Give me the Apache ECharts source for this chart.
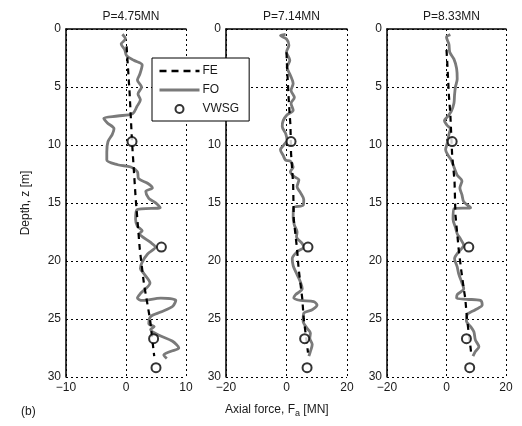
<!DOCTYPE html>
<html>
<head>
<meta charset="utf-8">
<script src="https://cdn.jsdelivr.net/npm/echarts@6/dist/echarts.min.js"></script>
<style>
  html, body { margin: 0; padding: 0; background: #fff; }
  #chart { width: 522px; height: 426px; }
</style>
</head>
<body>
<div id="chart"></div>
<script>
// panel titles (load P)
const panelTitles = ["P=4.75MN", "P=7.14MN", "P=8.33MN"];
const xRanges = [[-10, 10, 10], [-20, 20, 20], [-20, 20, 20]];
const depthTicks = [0, 30, 5];

// VWSG gauge depths (m)
const vwsgDepth = [9.7, 18.8, 26.7, 29.2];

// [axial force MN, depth m]
const fo475 = [
  [-0.6, 0.45], [-0.1, 0.85], [-0.8, 1.3], [-0.2, 1.8], [0.1, 2.3], [1.3, 2.7], [2.7, 3.1],
  [2.3, 3.9], [1.9, 4.4], [2.6, 5.0], [2.0, 5.6], [2.4, 6.1], [1.8, 6.7], [1.1, 7.3],
  [-1.4, 7.5], [-3.7, 7.7], [-3.1, 8.1], [-2.0, 8.6], [-2.3, 9.1], [-3.0, 9.7], [-3.2, 10.6],
  [-3.2, 11.3], [-1.4, 11.7], [0.8, 11.9], [1.9, 12.3], [2.1, 12.9], [3.6, 13.3], [4.4, 13.7],
  [3.3, 14.0], [3.8, 14.6], [4.7, 14.9], [5.2, 15.1], [5.7, 15.4], [1.8, 15.6], [1.6, 16.4],
  [1.9, 17.0], [2.7, 17.4], [2.2, 17.65], [2.7, 17.9], [4.1, 18.4], [4.9, 18.8], [3.6, 19.4],
  [2.7, 20.1], [2.4, 20.65], [3.0, 21.1], [4.0, 21.9], [2.4, 22.8], [1.9, 23.2], [2.7, 23.4],
  [5.8, 23.2], [8.3, 23.4], [7.8, 23.9], [5.8, 24.4], [4.1, 24.8], [3.8, 25.4], [4.7, 25.65],
  [4.1, 25.9], [5.5, 26.4], [7.7, 26.9], [8.8, 27.5], [7.4, 27.8], [6.3, 28.1], [6.8, 28.4]
];
const fe475 = [
  [0.1, 1.5], [0.6, 5.5], [1.0, 9.7], [1.6, 14.5], [2.3, 19.0], [3.0, 22.0],
  [3.5, 23.5], [4.0, 25.0], [4.7, 28.2]
];
const vwsg475 = [1.0, 5.9, 4.6, 5.0];

const fo714 = [
  [-0.3, 0.46], [-2.0, 0.57], [0.0, 0.86], [0.8, 1.4], [0.0, 2.0], [1.1, 2.7], [0.2, 3.3],
  [1.3, 4.0], [2.2, 4.7], [1.5, 5.3], [2.6, 5.9], [1.5, 6.4], [2.2, 7.0], [0.2, 7.4],
  [-1.1, 7.9], [-1.4, 8.4], [-0.3, 9.0], [0.2, 9.6], [-0.9, 10.0], [-2.0, 10.4], [-1.1, 10.9],
  [-0.3, 11.3], [1.3, 11.4], [2.2, 11.9], [1.3, 12.3], [2.4, 12.7], [4.1, 13.0], [3.5, 13.6],
  [4.6, 14.1], [5.7, 14.7], [5.5, 15.2], [2.4, 15.4], [2.2, 16.2], [2.6, 16.9], [3.5, 17.5],
  [3.3, 17.9], [5.2, 18.5], [5.7, 18.8], [3.5, 19.2], [1.9, 19.8], [2.2, 20.4], [3.0, 20.9],
  [4.6, 21.8], [5.2, 22.4], [3.0, 22.9], [2.4, 23.2], [4.6, 23.4], [9.0, 23.5], [10.1, 23.8],
  [8.5, 24.2], [5.7, 24.5], [5.5, 25.2], [6.8, 25.8], [7.9, 26.2], [7.7, 26.65], [8.5, 27.2],
  [7.9, 27.8], [7.4, 28.2]
];
const fe714 = [
  [0.0, 2.0], [0.2, 3.4], [0.8, 6.4], [1.3, 8.3], [1.5, 10.7], [2.2, 13.4], [2.4, 16.4],
  [3.5, 19.0], [4.0, 20.65], [5.2, 23.2], [5.7, 25.0], [6.8, 27.2], [7.1, 27.9]
];
const vwsg714 = [1.5, 7.1, 6.0, 6.8];

const fo833 = [
  [1.3, 0.49], [0.0, 0.71], [0.8, 1.3], [1.1, 2.0], [2.5, 2.6], [3.4, 3.4], [3.6, 4.3],
  [3.0, 5.0], [2.7, 5.7], [2.5, 6.4], [1.6, 7.1], [0.2, 7.6], [-0.7, 7.9], [0.2, 8.3],
  [1.3, 8.6], [0.8, 9.1], [0.2, 9.9], [-0.3, 10.4], [0.8, 11.0], [1.6, 11.3], [2.5, 11.9],
  [3.6, 12.6], [5.2, 13.1], [4.5, 13.7], [5.2, 14.3], [5.8, 14.9], [8.1, 15.4], [2.5, 15.5],
  [2.2, 16.4], [3.0, 17.1], [3.6, 17.65], [4.7, 18.1], [5.8, 18.65], [4.1, 19.2], [2.7, 19.8],
  [3.6, 20.5], [4.1, 21.1], [5.2, 21.9], [5.8, 22.4], [3.6, 22.9], [3.4, 23.2], [6.9, 23.3],
  [11.4, 23.4], [12.0, 23.8], [9.7, 24.2], [6.9, 24.65], [6.7, 25.2], [8.1, 25.65], [9.2, 26.1],
  [9.7, 26.8], [10.9, 27.4], [9.7, 27.8], [8.9, 28.2]
];
const fe833 = [
  [0.0, 1.8], [0.2, 2.6], [0.8, 5.7], [1.3, 7.4], [1.9, 10.9], [2.7, 13.1], [3.0, 16.0],
  [4.1, 19.0], [4.9, 20.7], [5.8, 22.4], [6.3, 23.2], [6.9, 25.0], [8.1, 27.5], [8.3, 28.0]
];
const vwsg833 = [1.9, 7.5, 6.7, 7.8];

const foData = [fo475, fo714, fo833];
const feData = [fe475, fe714, fe833];
const vwsgData = [vwsg475, vwsg714, vwsg833];

const grids = [
  { left: 66, top: 29, width: 120, height: 348 },
  { left: 226, top: 29, width: 121, height: 348 },
  { left: 387, top: 29, width: 119, height: 348 }
];
const font = "'Liberation Sans', Arial, sans-serif";
const ink = "#1a1a1a";
const foGray = "#7a7a7a";
const fmt = (v) => String(v).replace("-", "\u2212");
const gridLine = { show: true, lineStyle: { color: "#000", type: [2, 3], width: 1 } };

const chart = echarts.init(document.getElementById("chart"), null, { renderer: "canvas" });

const xAxis = xRanges.map((r, i) => ({
  type: "value", gridIndex: i, min: r[0], max: r[1], interval: r[2],
  axisLine: { show: true, lineStyle: { color: "#000", width: 1.5 } },
  axisTick: { show: false },
  axisLabel: { color: ink, fontSize: 12, fontFamily: font, margin: 5, formatter: fmt },
  splitLine: gridLine
}));
const yAxis = grids.map((g, i) => ({
  type: "value", gridIndex: i, inverse: true,
  min: depthTicks[0], max: depthTicks[1], interval: depthTicks[2],
  axisLine: { show: true, onZero: false, lineStyle: { color: "#000", width: 1.5 } },
  axisTick: { show: false },
  axisLabel: { color: ink, fontSize: 12, fontFamily: font, margin: 5 },
  splitLine: gridLine,
  name: i === 0 ? "Depth, z [m]" : "",
  nameLocation: "middle", nameGap: 34, nameRotate: 90,
  nameTextStyle: { color: ink, fontSize: 12, fontFamily: font }
}));

const series = [];
for (let i = 0; i < 3; i++) {
  series.push({
    name: "FE", type: "line", xAxisIndex: i, yAxisIndex: i, data: feData[i],
    symbol: "none", showSymbol: false, z: 3,
    lineStyle: { color: "#000", width: 2.2, type: [6, 5] }, itemStyle: { color: "#000" }
  });
  series.push({
    name: "FO", type: "line", xAxisIndex: i, yAxisIndex: i, data: foData[i],
    symbol: "none", showSymbol: false, smooth: 0.3, z: 2,
    lineStyle: { color: foGray, width: 2.8 }, itemStyle: { color: foGray }
  });
  series.push({
    name: "VWSG", type: "scatter", xAxisIndex: i, yAxisIndex: i,
    data: vwsgData[i].map((v, k) => [v, vwsgDepth[k]]),
    symbol: "emptyCircle", symbolSize: 9, z: 4,
    itemStyle: { color: "#000", borderColor: "#000", borderWidth: 2.5 }
  });
}

chart.setOption({
  animation: false,
  backgroundColor: "#fff",
  textStyle: { fontFamily: font },
  grid: grids,
  xAxis: xAxis,
  yAxis: yAxis,
  title: panelTitles.map((t, i) => ({
    text: t, left: grids[i].left + grids[i].width / 2, top: 6, textAlign: "center",
    textStyle: { color: ink, fontSize: 12, fontWeight: "normal", fontFamily: font }
  })),
  legend: {
    data: [
      { name: "FE", itemStyle: { opacity: 0 }, lineStyle: { width: 2.6, type: [7, 5] } },
      { name: "FO", itemStyle: { opacity: 0 }, lineStyle: { width: 3 } },
      { name: "VWSG", itemStyle: { borderWidth: 2.5 } }
    ],
    orient: "vertical", left: 152, top: 58,
    itemWidth: 40, itemHeight: 8, itemGap: 7, padding: [7, 10, 6, 6],
    borderColor: "#000", borderWidth: 1, backgroundColor: "#fff",
    textStyle: { color: ink, fontSize: 12, fontFamily: font, padding: [0, 0, 0, -2] },
    selectedMode: false
  },
  graphic: [
    {
      type: "text", left: 225, top: 404,
      style: {
        text: "Axial force, F{sub|a} [MN]", fill: ink, font: "12px " + font,
        rich: { sub: { fontSize: 9, fill: ink, padding: [7, 0, 0, 0] } }
      }
    },
    {
      type: "text", left: 21, top: 406,
      style: { text: "(b)", fill: ink, font: "12px " + font }
    }
  ],
  series: series
});
</script>
</body>
</html>
